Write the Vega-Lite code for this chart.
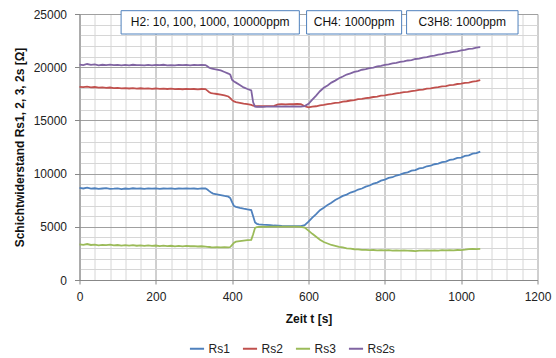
{
  "$schema": "https://vega.github.io/schema/vega-lite/v6.json",
  "width": 458,
  "height": 266,
  "autosize": {"type": "none"},
  "padding": {"left": 79.5, "top": 14, "right": 18.5, "bottom": 78},
  "background": "white",
  "config": {
    "view": {"stroke": null},
    "font": "Liberation Sans",
    "axis": {"labelFont": "Liberation Sans", "titleFont": "Liberation Sans", "labelFontSize": 12, "titleFontSize": 12, "labelColor": "#222222", "titleColor": "#111111", "titleFontWeight": "bold"},
    "legend": {"labelFont": "Liberation Sans", "labelFontSize": 12, "labelColor": "#222222"}
  },
  "datasets": {
    "meas": [
      {"t": 0, "Rs1": 8650, "Rs2": 18150, "Rs3": 3350, "Rs2s": 20250},
      {"t": 10, "Rs1": 8600, "Rs2": 18120, "Rs3": 3300, "Rs2s": 20200},
      {"t": 20, "Rs1": 8680, "Rs2": 18180, "Rs3": 3380, "Rs2s": 20300},
      {"t": 30, "Rs1": 8580, "Rs2": 18100, "Rs3": 3290, "Rs2s": 20220},
      {"t": 40, "Rs1": 8620, "Rs2": 18140, "Rs3": 3320, "Rs2s": 20260},
      {"t": 50, "Rs1": 8560, "Rs2": 18080, "Rs3": 3260, "Rs2s": 20180},
      {"t": 60, "Rs1": 8600, "Rs2": 18100, "Rs3": 3300, "Rs2s": 20230},
      {"t": 70, "Rs1": 8640, "Rs2": 18060, "Rs3": 3280, "Rs2s": 20200},
      {"t": 80, "Rs1": 8570, "Rs2": 18090, "Rs3": 3330, "Rs2s": 20250},
      {"t": 90, "Rs1": 8590, "Rs2": 18040, "Rs3": 3250, "Rs2s": 20190},
      {"t": 100, "Rs1": 8620, "Rs2": 18060, "Rs3": 3290, "Rs2s": 20220},
      {"t": 110, "Rs1": 8550, "Rs2": 18010, "Rs3": 3240, "Rs2s": 20170},
      {"t": 120, "Rs1": 8600, "Rs2": 18030, "Rs3": 3270, "Rs2s": 20210},
      {"t": 130, "Rs1": 8560, "Rs2": 18000, "Rs3": 3230, "Rs2s": 20180},
      {"t": 140, "Rs1": 8620, "Rs2": 18040, "Rs3": 3280, "Rs2s": 20230},
      {"t": 150, "Rs1": 8580, "Rs2": 17990, "Rs3": 3220, "Rs2s": 20190},
      {"t": 160, "Rs1": 8600, "Rs2": 18020, "Rs3": 3260, "Rs2s": 20200},
      {"t": 170, "Rs1": 8560, "Rs2": 17980, "Rs3": 3210, "Rs2s": 20170},
      {"t": 180, "Rs1": 8610, "Rs2": 18010, "Rs3": 3250, "Rs2s": 20220},
      {"t": 190, "Rs1": 8590, "Rs2": 17970, "Rs3": 3200, "Rs2s": 20180},
      {"t": 200, "Rs1": 8620, "Rs2": 18000, "Rs3": 3240, "Rs2s": 20210},
      {"t": 210, "Rs1": 8570, "Rs2": 17960, "Rs3": 3190, "Rs2s": 20190},
      {"t": 220, "Rs1": 8600, "Rs2": 17990, "Rs3": 3230, "Rs2s": 20230},
      {"t": 230, "Rs1": 8580, "Rs2": 17950, "Rs3": 3180, "Rs2s": 20180},
      {"t": 240, "Rs1": 8610, "Rs2": 17980, "Rs3": 3220, "Rs2s": 20200},
      {"t": 250, "Rs1": 8570, "Rs2": 17940, "Rs3": 3170, "Rs2s": 20170},
      {"t": 260, "Rs1": 8600, "Rs2": 17970, "Rs3": 3210, "Rs2s": 20220},
      {"t": 270, "Rs1": 8580, "Rs2": 17930, "Rs3": 3160, "Rs2s": 20190},
      {"t": 280, "Rs1": 8620, "Rs2": 17960, "Rs3": 3200, "Rs2s": 20210},
      {"t": 290, "Rs1": 8590, "Rs2": 17940, "Rs3": 3170, "Rs2s": 20180},
      {"t": 300, "Rs1": 8600, "Rs2": 17950, "Rs3": 3190, "Rs2s": 20220},
      {"t": 310, "Rs1": 8570, "Rs2": 17920, "Rs3": 3150, "Rs2s": 20190},
      {"t": 320, "Rs1": 8610, "Rs2": 17950, "Rs3": 3170, "Rs2s": 20210},
      {"t": 330, "Rs1": 8600, "Rs2": 17940, "Rs3": 3140, "Rs2s": 20200},
      {"t": 335, "Rs1": 8500, "Rs2": 17800, "Rs3": 3120, "Rs2s": 20080},
      {"t": 340, "Rs1": 8350, "Rs2": 17650, "Rs3": 3100, "Rs2s": 19950},
      {"t": 345, "Rs1": 8220, "Rs2": 17570, "Rs3": 3080, "Rs2s": 19880},
      {"t": 350, "Rs1": 8120, "Rs2": 17530, "Rs3": 3070, "Rs2s": 19850},
      {"t": 360, "Rs1": 8050, "Rs2": 17480, "Rs3": 3090, "Rs2s": 19780},
      {"t": 370, "Rs1": 7980, "Rs2": 17420, "Rs3": 3060, "Rs2s": 19700},
      {"t": 380, "Rs1": 7900, "Rs2": 17350, "Rs3": 3080, "Rs2s": 19550},
      {"t": 390, "Rs1": 7830, "Rs2": 17250, "Rs3": 3070, "Rs2s": 19400},
      {"t": 395, "Rs1": 7700, "Rs2": 17100, "Rs3": 3100, "Rs2s": 19300},
      {"t": 400, "Rs1": 7300, "Rs2": 16900, "Rs3": 3300, "Rs2s": 18800},
      {"t": 405, "Rs1": 6950, "Rs2": 16780, "Rs3": 3500, "Rs2s": 18650},
      {"t": 410, "Rs1": 6880, "Rs2": 16720, "Rs3": 3600, "Rs2s": 18550},
      {"t": 420, "Rs1": 6780, "Rs2": 16650, "Rs3": 3660, "Rs2s": 18330},
      {"t": 430, "Rs1": 6700, "Rs2": 16580, "Rs3": 3710, "Rs2s": 18100},
      {"t": 440, "Rs1": 6630, "Rs2": 16520, "Rs3": 3740, "Rs2s": 17950},
      {"t": 450, "Rs1": 6580, "Rs2": 16460, "Rs3": 3770, "Rs2s": 17820},
      {"t": 455, "Rs1": 6000, "Rs2": 16380, "Rs3": 4300, "Rs2s": 16700},
      {"t": 460, "Rs1": 5400, "Rs2": 16340, "Rs3": 4900, "Rs2s": 16300},
      {"t": 465, "Rs1": 5280, "Rs2": 16330, "Rs3": 4980, "Rs2s": 16280},
      {"t": 470, "Rs1": 5230, "Rs2": 16340, "Rs3": 5000, "Rs2s": 16290},
      {"t": 480, "Rs1": 5200, "Rs2": 16330, "Rs3": 5010, "Rs2s": 16280},
      {"t": 490, "Rs1": 5180, "Rs2": 16350, "Rs3": 5000, "Rs2s": 16300},
      {"t": 500, "Rs1": 5150, "Rs2": 16340, "Rs3": 5020, "Rs2s": 16290},
      {"t": 510, "Rs1": 5120, "Rs2": 16360, "Rs3": 5010, "Rs2s": 16300},
      {"t": 520, "Rs1": 5100, "Rs2": 16500, "Rs3": 5020, "Rs2s": 16310},
      {"t": 530, "Rs1": 5080, "Rs2": 16520, "Rs3": 5010, "Rs2s": 16290},
      {"t": 540, "Rs1": 5070, "Rs2": 16510, "Rs3": 5020, "Rs2s": 16320},
      {"t": 550, "Rs1": 5060, "Rs2": 16530, "Rs3": 5010, "Rs2s": 16300},
      {"t": 560, "Rs1": 5070, "Rs2": 16520, "Rs3": 5020, "Rs2s": 16310},
      {"t": 570, "Rs1": 5060, "Rs2": 16540, "Rs3": 5010, "Rs2s": 16290},
      {"t": 580, "Rs1": 5070, "Rs2": 16520, "Rs3": 5000, "Rs2s": 16300},
      {"t": 590, "Rs1": 5150, "Rs2": 16330, "Rs3": 4930, "Rs2s": 16350},
      {"t": 600, "Rs1": 5480, "Rs2": 16230, "Rs3": 4640, "Rs2s": 16560},
      {"t": 610, "Rs1": 5860, "Rs2": 16300, "Rs3": 4340, "Rs2s": 16950},
      {"t": 620, "Rs1": 6190, "Rs2": 16330, "Rs3": 4060, "Rs2s": 17330},
      {"t": 630, "Rs1": 6560, "Rs2": 16420, "Rs3": 3790, "Rs2s": 17740},
      {"t": 640, "Rs1": 6790, "Rs2": 16450, "Rs3": 3570, "Rs2s": 18070},
      {"t": 650, "Rs1": 7060, "Rs2": 16530, "Rs3": 3430, "Rs2s": 18290},
      {"t": 660, "Rs1": 7260, "Rs2": 16570, "Rs3": 3290, "Rs2s": 18550},
      {"t": 670, "Rs1": 7520, "Rs2": 16640, "Rs3": 3210, "Rs2s": 18740},
      {"t": 680, "Rs1": 7700, "Rs2": 16680, "Rs3": 3110, "Rs2s": 18960},
      {"t": 690, "Rs1": 7900, "Rs2": 16760, "Rs3": 3060, "Rs2s": 19120},
      {"t": 700, "Rs1": 8030, "Rs2": 16800, "Rs3": 2980, "Rs2s": 19310},
      {"t": 710, "Rs1": 8220, "Rs2": 16870, "Rs3": 2950, "Rs2s": 19420},
      {"t": 720, "Rs1": 8320, "Rs2": 16900, "Rs3": 2890, "Rs2s": 19560},
      {"t": 730, "Rs1": 8500, "Rs2": 16990, "Rs3": 2880, "Rs2s": 19640},
      {"t": 740, "Rs1": 8600, "Rs2": 17020, "Rs3": 2830, "Rs2s": 19760},
      {"t": 750, "Rs1": 8780, "Rs2": 17090, "Rs3": 2830, "Rs2s": 19810},
      {"t": 760, "Rs1": 8880, "Rs2": 17130, "Rs3": 2800, "Rs2s": 19920},
      {"t": 770, "Rs1": 9060, "Rs2": 17200, "Rs3": 2820, "Rs2s": 19970},
      {"t": 780, "Rs1": 9160, "Rs2": 17240, "Rs3": 2790, "Rs2s": 20080},
      {"t": 790, "Rs1": 9340, "Rs2": 17320, "Rs3": 2810, "Rs2s": 20120},
      {"t": 800, "Rs1": 9440, "Rs2": 17360, "Rs3": 2780, "Rs2s": 20220},
      {"t": 810, "Rs1": 9590, "Rs2": 17430, "Rs3": 2800, "Rs2s": 20260},
      {"t": 820, "Rs1": 9660, "Rs2": 17460, "Rs3": 2770, "Rs2s": 20360},
      {"t": 830, "Rs1": 9820, "Rs2": 17540, "Rs3": 2790, "Rs2s": 20400},
      {"t": 840, "Rs1": 9900, "Rs2": 17580, "Rs3": 2760, "Rs2s": 20500},
      {"t": 850, "Rs1": 10050, "Rs2": 17650, "Rs3": 2790, "Rs2s": 20540},
      {"t": 860, "Rs1": 10110, "Rs2": 17680, "Rs3": 2770, "Rs2s": 20630},
      {"t": 870, "Rs1": 10270, "Rs2": 17760, "Rs3": 2750, "Rs2s": 20670},
      {"t": 880, "Rs1": 10330, "Rs2": 17790, "Rs3": 2720, "Rs2s": 20770},
      {"t": 890, "Rs1": 10490, "Rs2": 17870, "Rs3": 2770, "Rs2s": 20810},
      {"t": 900, "Rs1": 10540, "Rs2": 17900, "Rs3": 2760, "Rs2s": 20910},
      {"t": 910, "Rs1": 10690, "Rs2": 17980, "Rs3": 2790, "Rs2s": 20940},
      {"t": 920, "Rs1": 10740, "Rs2": 18010, "Rs3": 2770, "Rs2s": 21040},
      {"t": 930, "Rs1": 10880, "Rs2": 18090, "Rs3": 2790, "Rs2s": 21080},
      {"t": 940, "Rs1": 10930, "Rs2": 18120, "Rs3": 2770, "Rs2s": 21180},
      {"t": 950, "Rs1": 11080, "Rs2": 18200, "Rs3": 2800, "Rs2s": 21220},
      {"t": 960, "Rs1": 11130, "Rs2": 18230, "Rs3": 2790, "Rs2s": 21320},
      {"t": 970, "Rs1": 11280, "Rs2": 18310, "Rs3": 2810, "Rs2s": 21360},
      {"t": 980, "Rs1": 11330, "Rs2": 18340, "Rs3": 2790, "Rs2s": 21450},
      {"t": 990, "Rs1": 11470, "Rs2": 18420, "Rs3": 2820, "Rs2s": 21490},
      {"t": 1000, "Rs1": 11510, "Rs2": 18450, "Rs3": 2810, "Rs2s": 21590},
      {"t": 1010, "Rs1": 11670, "Rs2": 18530, "Rs3": 2850, "Rs2s": 21620},
      {"t": 1020, "Rs1": 11720, "Rs2": 18560, "Rs3": 2900, "Rs2s": 21720},
      {"t": 1030, "Rs1": 11880, "Rs2": 18640, "Rs3": 2930, "Rs2s": 21750},
      {"t": 1040, "Rs1": 11930, "Rs2": 18690, "Rs3": 2900, "Rs2s": 21850},
      {"t": 1050, "Rs1": 12070, "Rs2": 18780, "Rs3": 2930, "Rs2s": 21880}
    ],
    "notes": [
      {"label": "H2: 10, 100, 1000, 10000ppm", "x1": 109, "x2": 576, "mid": 342.5, "top": 25310, "bottom": 23120, "ty": 24215},
      {"label": "CH4: 1000ppm", "x1": 595, "x2": 844, "mid": 719.5, "top": 25310, "bottom": 23120, "ty": 24215},
      {"label": "C3H8: 1000ppm", "x1": 857, "x2": 1149, "mid": 1003, "top": 25310, "bottom": 23120, "ty": 24215}
    ]
  },
  "layer": [
    {
      "data": {"name": "meas"},
      "transform": [{"fold": ["Rs1", "Rs2", "Rs3", "Rs2s"], "as": ["series", "value"]}],
      "mark": {"type": "line", "strokeWidth": 1.8, "interpolate": "linear"},
      "encoding": {
        "x": {
          "field": "t", "type": "quantitative",
          "scale": {"domain": [0, 1200], "nice": false, "zero": false},
          "axis": {
            "title": "Zeit t [s]",
            "values": [0, 40, 80, 120, 160, 200, 240, 280, 320, 360, 400, 440, 480, 520, 560, 600, 640, 680, 720, 760, 800, 840, 880, 920, 960, 1000, 1040, 1080, 1120, 1160, 1200],
            "tickCount": 100,
            "labelExpr": "datum.value % 200 === 0 ? datum.label : ''",
            "labelOverlap": false,
            "labelFlush": false,
            "format": "d",
            "grid": true,
            "gridColor": {"condition": {"test": "datum.value % 200 === 0", "value": "#a0a0a0"}, "value": "#d6d6d6"},
            "gridWidth": 1,
            "domainColor": "#888888",
            "tickColor": {"condition": {"test": "datum.value % 200 === 0", "value": "#888888"}, "value": "transparent"},
            "tickSize": 4,
            "labelPadding": 7,
            "titlePadding": 11
          }
        },
        "y": {
          "field": "value", "type": "quantitative",
          "scale": {"domain": [0, 25000], "nice": false},
          "axis": {
            "title": "Schichtwiderstand Rs1, 2, 3, 2s [Ω]",
            "values": [0, 1000, 2000, 3000, 4000, 5000, 6000, 7000, 8000, 9000, 10000, 11000, 12000, 13000, 14000, 15000, 16000, 17000, 18000, 19000, 20000, 21000, 22000, 23000, 24000, 25000],
            "tickCount": 100,
            "labelExpr": "datum.value % 5000 === 0 ? datum.label : ''",
            "labelOverlap": false,
            "labelFlush": false,
            "format": "d",
            "grid": true,
            "gridColor": {"condition": {"test": "datum.value % 5000 === 0", "value": "#a0a0a0"}, "value": "#d6d6d6"},
            "gridWidth": 1,
            "domainColor": "#888888",
            "tickColor": {"condition": {"test": "datum.value % 5000 === 0", "value": "#888888"}, "value": "transparent"},
            "tickSize": 5,
            "labelPadding": 8,
            "titlePadding": 7
          }
        },
        "color": {
          "field": "series", "type": "nominal",
          "scale": {"domain": ["Rs1", "Rs2", "Rs3", "Rs2s"], "range": ["#4F81BD", "#C0504D", "#9BBB59", "#8064A2"]},
          "legend": {
            "title": null,
            "orient": "none",
            "direction": "horizontal",
            "legendX": 109,
            "legendY": 326,
            "padding": 0,
            "symbolType": "stroke",
            "symbolSize": 200,
            "symbolStrokeWidth": 2,
            "labelOffset": 3,
            "columnPadding": 8
          }
        }
      }
    },
    {
      "data": {"name": "notes"},
      "mark": {"type": "rect", "fill": "white", "stroke": "#4F81BD", "strokeWidth": 1},
      "encoding": {
        "x": {"field": "x1", "type": "quantitative"},
        "x2": {"field": "x2"},
        "y": {"field": "top", "type": "quantitative"},
        "y2": {"field": "bottom"}
      }
    },
    {
      "data": {"name": "notes"},
      "mark": {"type": "text", "fontSize": 12, "font": "Liberation Sans", "color": "#111111", "align": "center", "baseline": "middle"},
      "encoding": {
        "x": {"field": "mid", "type": "quantitative"},
        "y": {"field": "ty", "type": "quantitative"},
        "text": {"field": "label"}
      }
    }
  ]
}
